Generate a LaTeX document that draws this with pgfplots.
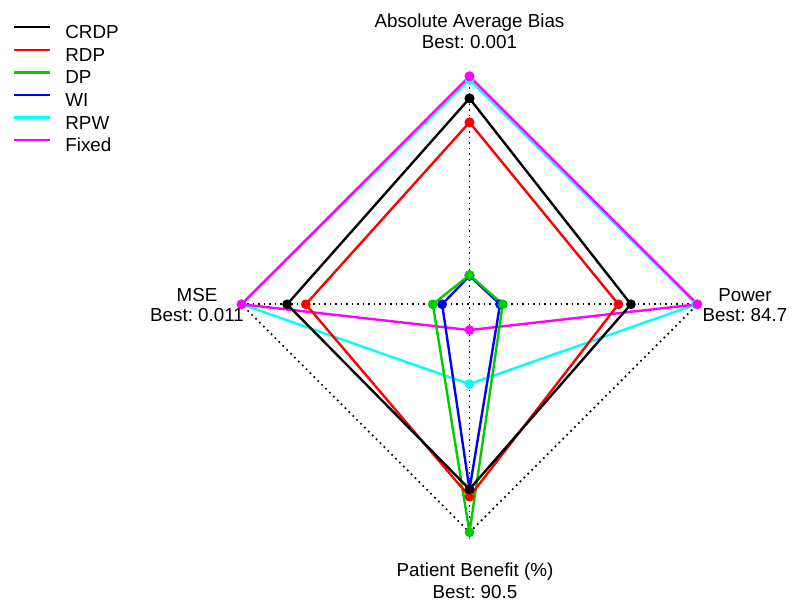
\documentclass[border=0pt]{standalone}
\usepackage{pgfplots}
\pgfplotsset{compat=1.18}
\usepackage{fontspec}
\setmainfont{Liberation Sans}
\definecolor{rgreen}{RGB}{0,205,0}
\definecolor{rblue}{RGB}{0,0,255}
\definecolor{rred}{RGB}{255,0,0}
\definecolor{rcyan}{RGB}{0,255,255}
\definecolor{rmag}{RGB}{255,0,255}
\newcommand{\ff}{\fontsize{18.8pt}{22pt}\selectfont\frenchspacing}
\begin{document}
\ff
\begin{tikzpicture}[x=1pt,y=1pt]
\path[use as bounding box] (0,0) rectangle (800,-610);
\begin{axis}[
  at={(0,0)}, anchor=north west,
  x=228pt, y=228pt,
  xmin=-2.0592, xmax=1.4496, ymin=-1.3408, ymax=1.3346,
  hide axis, clip=false,
  every axis plot/.append style={line width=2.4pt, mark=*, mark size=3.6pt, line join=miter},
  legend cell align=left,
  legend style={at={(axis description cs:0,1)}, anchor=north west,
    xshift=13pt, yshift=-25.2pt, draw=none, fill=none,
    inner sep=0pt, outer sep=0pt, row sep=5.1pt,
    font=\ff,
    nodes={inner sep=0pt, text height=13.5pt, text depth=4pt}},
  legend image code/.code={\draw[#1,line width=2.4pt] (0pt,6.7pt) -- (36pt,6.7pt); \path (0pt,0pt) (50pt,0pt);},
]
% grid (dotted)
\addplot[black, line width=1.7pt, dash pattern=on 1.7pt off 3.8pt, mark=none, forget plot]
  coordinates {(-1,0) (1,0)};
\addplot[black, line width=1.7pt, dash pattern=on 1.7pt off 3.8pt, mark=none, forget plot]
  coordinates {(0,1) (0,-1)};
\addplot[black, line width=1.7pt, dash pattern=on 1.7pt off 3.8pt, mark=none, forget plot]
  coordinates {(0,1) (1,0) (0,-1) (-1,0) (0,1)};
% legend (in the reference order)
\addlegendimage{black}\addlegendentry{CRDP}
\addlegendimage{rred}\addlegendentry{RDP}
\addlegendimage{rgreen}\addlegendentry{DP}
\addlegendimage{rblue}\addlegendentry{WI}
\addlegendimage{rcyan}\addlegendentry{RPW}
\addlegendimage{rmag}\addlegendentry{Fixed}
% series: (0,Bias) (Power,0) (0,-PatientBenefit) (-MSE,0)
% RPW
\addplot[rcyan, mark options={fill=rcyan}, forget plot] coordinates {(0,0.985) (0.995,0) (0,-0.350) (-1.000,0) (0,0.985)};
% Fixed
\addplot[rmag, mark options={fill=rmag}, forget plot] coordinates {(0,1.000) (1.000,0) (0,-0.113) (-1.000,0) (0,1.000)};
% WI
\addplot[rblue, mark options={fill=rblue}, forget plot] coordinates {(0,0.125) (0.134,0) (0,-0.812) (-0.120,0) (0,0.125)};
% DP
\addplot[rgreen, mark options={fill=rgreen}, forget plot] coordinates {(0,0.128) (0.146,0) (0,-1.000) (-0.161,0) (0,0.128)};
% RDP
\addplot[rred, mark options={fill=rred}, forget plot] coordinates {(0,0.798) (0.653,0) (0,-0.844) (-0.718,0) (0,0.798)};
% CRDP
\addplot[black, mark options={fill=black}, forget plot] coordinates {(0,0.903) (0.708,0) (0,-0.811) (-0.800,0) (0,0.903)};
\end{axis}
\node[anchor=base] at (469.5,-27.5) {Absolute Average Bias};
\node[anchor=base] at (469.5,-48.5) {Best: 0.001};
\node[anchor=base] at (197,-301.7) {MSE};
\node[anchor=base] at (197,-321.7) {Best: 0.011};
\node[anchor=base] at (745,-301.7) {Power};
\node[anchor=base] at (745,-321.7) {Best: 84.7};
\node[anchor=base] at (475,-576.7) {Patient Benefit (\%)};
\node[anchor=base] at (475,-598) {Best: 90.5};
\end{tikzpicture}
\end{document}
